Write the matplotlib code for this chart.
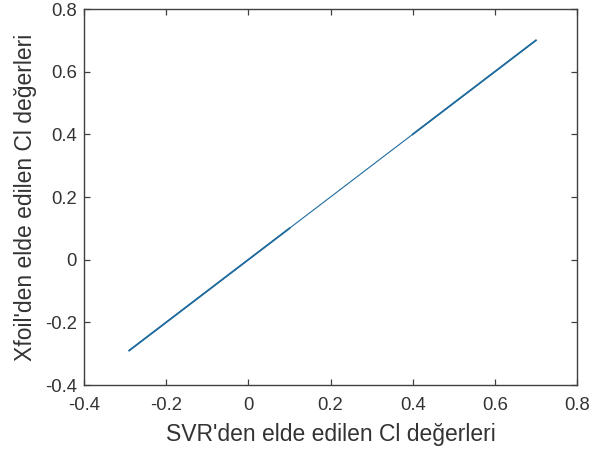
import numpy as np
import matplotlib.pyplot as plt

# SVR predictions vs Xfoil Cl values
svr_cl = [-0.29, -0.2, -0.1, 0.0, 0.1, 0.2, 0.3, 0.4, 0.5, 0.6, 0.70]
xfoil_cl = [-0.29, -0.2, -0.1, 0.0, 0.1, 0.2, 0.3, 0.4, 0.5, 0.6, 0.70]

xticks = [-0.4, -0.2, 0, 0.2, 0.4, 0.6, 0.8]
yticks = [-0.4, -0.2, 0, 0.2, 0.4, 0.6, 0.8]
tick_labels = ['-0.4', '-0.2', '0', '0.2', '0.4', '0.6', '0.8']

plt.rcParams['font.family'] = ['Liberation Sans', 'DejaVu Sans']

fig = plt.figure(figsize=(5.91, 4.53), dpi=100)
ax = fig.add_axes([84 / 591, 1 - 385 / 453, (577 - 84) / 591, (385 - 9) / 453])

line_col = '#1f6b9e'
ax.plot(svr_cl, xfoil_cl, color=line_col, linewidth=0.8)
ax.plot(svr_cl[:5], xfoil_cl[:5], color=line_col, linewidth=1.3)
ax.plot(svr_cl[7:], xfoil_cl[7:], color=line_col, linewidth=1.3)

ax.set_xlim(-0.4, 0.8)
ax.set_ylim(-0.4, 0.8)
ax.set_xticks(xticks)
ax.set_xticklabels(tick_labels)
ax.set_yticks(yticks)
ax.set_yticklabels(tick_labels)

dark = '#333333'
for s in ax.spines.values():
    s.set_color('#404040')
    s.set_linewidth(1.0)
ax.tick_params(direction='in', length=4, width=0.9, colors='#404040', labelcolor=dark,
               labelsize=13.3, top=True, right=True)
ax.tick_params(axis='x', pad=9)
ax.tick_params(axis='y', pad=5)

ax.set_xlabel("SVR'den elde edilen Cl değerleri", fontsize=16.5, color=dark, labelpad=6)
ax.set_ylabel("Xfoil'den elde edilen Cl değerleri", fontsize=16.5, color=dark, labelpad=6)

fig.savefig('out.png', dpi=100)
